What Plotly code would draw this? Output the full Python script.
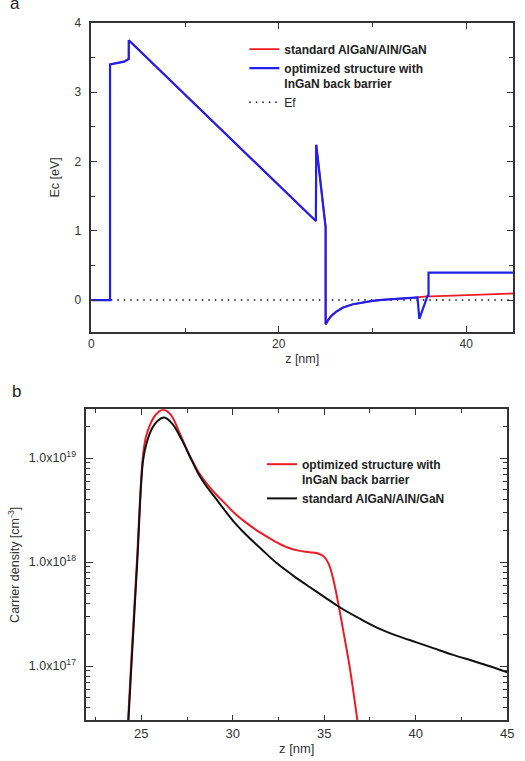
import numpy as np
import plotly.graph_objects as go

# ---------------- Panel a: conduction band edge ----------------
z_opt = [0, 2.0, 2.0, 2.5, 3.0, 3.5, 4.0, 4.0, 23.96, 24.0, 25.0, 25.0, 25.3, 25.6, 26.1,
         26.8, 27.9, 29.0, 30.0, 31.0, 32.4, 33.5, 34.5, 34.8, 35.0, 35.87, 35.98, 35.98, 45.0]
ec_opt = [0, 0, 3.40, 3.41, 3.42, 3.44, 3.48, 3.75, 1.14, 2.24, 1.05, -0.35, -0.28, -0.23, -0.17,
          -0.11, -0.06, -0.03, -0.01, 0.003, 0.014, 0.025, 0.035, 0.038, -0.27, 0.06, 0.06, 0.395, 0.395]

z_std = [0, 2.0, 2.0, 2.5, 3.0, 3.5, 4.0, 4.0, 23.96, 24.0, 25.0, 25.0, 25.3, 25.6, 26.1,
         26.8, 27.9, 29.0, 30.0, 31.0, 32.4, 33.5, 34.5, 35.5, 37.0, 39.0, 41.0, 43.0, 45.0]
ec_std = [0, 0, 3.40, 3.41, 3.42, 3.44, 3.48, 3.75, 1.14, 2.24, 1.05, -0.35, -0.28, -0.23, -0.17,
          -0.11, -0.06, -0.03, -0.01, 0.003, 0.014, 0.025, 0.035, 0.05, 0.058, 0.068, 0.077, 0.086, 0.095]

z_ef = [0, 45]
ef = [0, 0]

# ---------------- Panel b: carrier density (log10 values) ----------------
z_n_opt = [24.15, 24.28, 24.44, 24.76, 25.08, 25.25, 25.5, 25.8, 26.2, 26.6, 27.1, 27.6, 28.15,
           28.6, 29.04, 29.6, 30.1, 30.8, 31.53, 32.3, 33.0, 33.6, 34.2, 34.7, 35.0, 35.25, 35.5,
           35.8, 36.1, 36.4, 36.7, 36.95]
logn_opt = [16.1, 16.48, 17.0, 18.0, 19.0, 19.2, 19.33, 19.42, 19.465, 19.42, 19.24, 19.04, 18.86,
            18.75, 18.66, 18.56, 18.47, 18.37, 18.28, 18.2, 18.14, 18.11, 18.095, 18.08, 18.05, 17.98, 17.83,
            17.57, 17.28, 16.98, 16.62, 16.3]

z_n_std = [24.17, 24.3, 24.46, 24.78, 25.1, 25.3, 25.6, 25.9, 26.25, 26.7, 27.2, 27.7, 28.15,
           28.6, 29.04, 29.6, 30.1, 30.8, 31.53, 32.4, 33.3, 34.2, 35.0, 35.8, 37.0, 38.0, 39.0,
           40.0, 41.0, 42.0, 43.1, 44.0, 45.0]
logn_std = [16.1, 16.48, 17.0, 18.0, 18.98, 19.15, 19.29, 19.36, 19.39, 19.33, 19.18, 19.0, 18.84,
            18.72, 18.62, 18.49, 18.38, 18.25, 18.13, 17.99, 17.87, 17.76, 17.665, 17.57, 17.45, 17.36, 17.29,
            17.23, 17.17, 17.11, 17.05, 17.0, 16.94]

n_opt = [10.0 ** v for v in logn_opt]
n_std = [10.0 ** v for v in logn_std]

ytick_vals_b = [1e17, 1e18, 1e19]
ytick_text_b = ["1.0x10<sup>17</sup>", "1.0x10<sup>18</sup>", "1.0x10<sup>19</sup>"]
xtick_vals_b = [25, 30, 35, 40, 45]
minor_vals_b = [float(m) * 10.0 ** e for e in (16, 17, 18, 19) for m in range(2, 10)]

RED = "#ec1c24"
BLUE = "#2020ee"
BLACK = "#111111"
AX = "#333333"
FONT = "Liberation Sans, Arial, sans-serif"

fig = go.Figure()

# Panel a traces
fig.add_trace(go.Scatter(x=z_std, y=ec_std, mode="lines", line=dict(color=RED, width=1.8),
                         name="<b>standard AlGaN/AlN/GaN</b>", xaxis="x", yaxis="y",
                         legend="legend", legendrank=1))
fig.add_trace(go.Scatter(x=z_ef, y=ef, mode="lines", line=dict(color=BLACK, width=1.5, dash="1.5px,5px"),
                         name="Ef", xaxis="x", yaxis="y", legend="legend", legendrank=3))
fig.add_trace(go.Scatter(x=z_opt, y=ec_opt, mode="lines", line=dict(color=BLUE, width=2.2),
                         name="<b>optimized structure with<br>InGaN back barrier</b>",
                         xaxis="x", yaxis="y", legend="legend", legendrank=2))

# Panel b traces
fig.add_trace(go.Scatter(x=z_n_opt, y=n_opt, mode="lines", line=dict(color=RED, width=2, shape="spline", smoothing=1),
                         name="<b>optimized structure with<br>InGaN back barrier</b>",
                         xaxis="x2", yaxis="y2", legend="legend2", legendrank=1))
fig.add_trace(go.Scatter(x=z_n_std, y=n_std, mode="lines", line=dict(color=BLACK, width=2, shape="spline", smoothing=1),
                         name="<b>standard AlGaN/AlN/GaN</b>",
                         xaxis="x2", yaxis="y2", legend="legend2", legendrank=2))

W, H = 525, 761


def px_x(a, b):
    return [a / W, b / W]


def px_y(top, bottom):
    return [1 - bottom / H, 1 - top / H]


common = dict(showline=True, linecolor=AX, linewidth=1.6, mirror="allticks", ticks="inside",
              tickcolor=AX, tickwidth=1.4, showgrid=False, zeroline=False,
              tickfont=dict(family=FONT, size=12, color=AX))

fig.update_layout(
    width=W, height=H,
    margin=dict(l=0, r=0, t=0, b=0),
    paper_bgcolor="white", plot_bgcolor="white",
    font=dict(family=FONT, color=AX),
    xaxis=dict(domain=px_x(90, 520), anchor="y", range=[0, 45], tick0=0, dtick=20, ticklen=6,
               minor=dict(dtick=10, tick0=0, ticks="inside", ticklen=4, tickcolor=AX),
               title=dict(text="z [nm]", font=dict(family=FONT, size=12.5, color=AX), standoff=4),
               **common),
    yaxis=dict(domain=px_y(16, 328), anchor="x", range=[-0.46, 4], tick0=0, dtick=1, ticklen=6,
               minor=dict(dtick=0.5, tick0=0, ticks="inside", ticklen=4, tickcolor=AX),
               title=dict(text="Ec [eV]", font=dict(family=FONT, size=12.5, color=AX), standoff=12),
               ticklabelstandoff=6,
               **common),
    xaxis2=dict(domain=px_x(85, 514), anchor="y2", range=[22, 45], tickvals=xtick_vals_b, ticklen=6,
                minor=dict(tick0=22.5, dtick=5, ticks="inside", ticklen=4, tickcolor=AX),
                title=dict(text="z [nm]", font=dict(family=FONT, size=13, color=AX), standoff=4),
                **{**common, "tickfont": dict(family=FONT, size=13, color=AX)}),
    yaxis2=dict(domain=px_y(406, 720), anchor="x2", type="log",
                range=[np.log10(3e16), np.log10(2.95e19)],
                tickvals=ytick_vals_b, ticktext=ytick_text_b, ticklen=7,
                minor=dict(tickvals=minor_vals_b, ticks="inside", ticklen=4, tickcolor=AX),
                title=dict(text="Carrier density [cm<sup>-3</sup>]", font=dict(family=FONT, size=12.5, color=AX),
                           standoff=6),
                ticklabelstandoff=6,
                **{**common, "tickfont": dict(family=FONT, size=12.5, color=AX)}),
    legend=dict(x=246 / W, y=1 - 28 / H, xanchor="left", yanchor="top", bgcolor="rgba(0,0,0,0)",
                borderwidth=0, valign="top", font=dict(family=FONT, size=12, color="#222222"),
                tracegroupgap=0, itemwidth=30),
    legend2=dict(x=264 / W, y=1 - 447 / H, xanchor="left", yanchor="top", bgcolor="rgba(0,0,0,0)",
                 borderwidth=0, valign="top", font=dict(family=FONT, size=12, color="#222222"),
                 tracegroupgap=0, itemwidth=30),
    showlegend=True,
    annotations=[
        dict(text="a", x=12 / W, y=1 + 4 / H, xref="paper", yref="paper", xanchor="center",
             yanchor="middle", showarrow=False, font=dict(family=FONT, size=17, color="#222222")),
        dict(text="b", x=14 / W, y=1 - 388 / H, xref="paper", yref="paper", xanchor="center",
             yanchor="middle", showarrow=False, font=dict(family=FONT, size=17, color="#222222")),
    ],
)

fig.write_html("out.html")
